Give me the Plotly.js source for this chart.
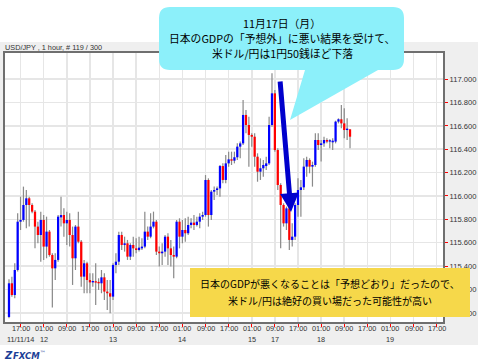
<!DOCTYPE html>
<html><head><meta charset="utf-8">
<script src="https://cdn.plot.ly/plotly-3.0.1.min.js"></script>
<style>html,body{margin:0;padding:0;background:#fff;} #chart{width:478px;height:363px;}</style>
</head><body><div id="chart"></div>
<script>
// USD/JPY 1-hour candles (index 0 = 11/11/14 13:00)
const openP = [
114.965,115.253,115.153,115.367,115.780,115.795,115.923,115.980,115.923,115.866,
115.738,115.666,115.795,115.567,115.695,115.495,115.381,115.453,115.817,115.837,
115.766,115.795,115.666,115.467,115.738,115.609,115.310,115.424,115.281,115.261,
115.270,115.259,115.253,115.304,115.182,115.168,115.139,115.410,115.438,115.666,
115.581,115.595,115.481,115.581,115.552,115.538,115.552,115.567,115.695,115.652,
115.738,115.780,115.524,115.510,115.524,115.652,115.552,115.495,115.481,115.780,
115.652,115.709,115.681,115.752,115.772,115.752,115.780,115.823,115.837,116.137,
115.837,116.037,116.051,116.065,116.256,116.137,116.279,116.313,116.302,116.331,
116.422,116.450,116.693,116.607,116.522,116.507,116.336,116.208,116.237,116.256,
116.279,116.607,116.878,116.393,116.094,115.923,115.766,115.894,115.624,115.652,
115.923,116.051,116.074,116.251,116.308,116.251,116.265,116.479,116.436,116.450,
116.479,116.465,116.459,116.465,116.636,116.656,116.621,116.564,116.570];
const highP = [
115.287,115.310,115.424,115.852,115.994,116.080,116.051,115.994,115.937,115.880,
115.780,115.866,115.837,115.823,115.709,115.510,115.510,115.837,115.994,115.894,
115.866,115.852,115.738,115.752,115.866,115.624,115.453,115.438,115.338,115.338,
115.424,115.296,115.367,115.338,115.281,115.281,115.424,115.510,115.695,115.695,
115.652,115.624,115.595,115.652,115.638,115.652,115.638,115.866,115.738,115.852,
115.866,115.795,115.567,115.595,115.666,115.681,115.624,115.567,115.795,115.809,
115.795,115.809,115.823,115.809,115.837,115.823,115.852,115.866,116.179,116.151,
116.051,116.080,116.080,116.265,116.279,116.351,116.379,116.379,116.379,116.450,
116.465,116.821,116.735,116.678,116.536,116.536,116.365,116.322,116.308,116.336,
116.678,117.049,116.906,116.408,116.108,115.937,115.909,115.909,115.766,115.937,
116.151,116.137,116.322,116.336,116.322,116.294,116.536,116.536,116.479,116.507,
116.493,116.485,116.493,116.644,116.664,116.778,116.750,116.664,116.570];
const lowP = [
114.954,115.139,115.125,115.353,115.709,115.780,115.723,115.738,115.852,115.552,
115.595,115.438,115.453,115.467,115.481,115.045,115.281,115.438,115.738,115.652,
115.581,115.567,115.239,115.367,115.595,115.224,115.168,115.168,115.168,115.224,
115.068,115.196,115.168,115.110,115.025,114.996,115.110,115.338,115.410,115.538,
115.524,115.453,115.453,115.481,115.510,115.524,115.538,115.552,115.624,115.638,
115.723,115.495,115.396,115.410,115.481,115.410,115.396,115.296,115.467,115.552,
115.595,115.609,115.666,115.723,115.709,115.738,115.723,115.795,115.823,115.738,
115.795,115.966,116.008,115.994,116.108,116.108,116.251,116.265,116.279,116.308,
116.322,116.436,116.536,116.251,116.422,116.251,116.122,116.137,116.165,116.222,
116.265,116.593,116.379,116.051,115.552,115.738,115.709,115.538,115.567,115.624,
115.823,115.823,116.051,116.165,116.194,116.080,116.251,116.393,116.294,116.422,
116.450,116.408,116.393,116.450,116.621,116.579,116.493,116.479,116.408];
const closeP = [
115.253,115.153,115.367,115.780,115.795,115.923,115.980,115.923,115.866,115.738,
115.666,115.795,115.567,115.695,115.495,115.381,115.453,115.823,115.837,115.766,
115.795,115.666,115.467,115.738,115.609,115.310,115.424,115.281,115.261,115.270,
115.259,115.253,115.304,115.182,115.168,115.139,115.410,115.438,115.666,115.581,
115.595,115.481,115.581,115.552,115.538,115.558,115.567,115.695,115.652,115.738,
115.780,115.524,115.510,115.524,115.652,115.552,115.495,115.481,115.780,115.652,
115.709,115.681,115.752,115.772,115.752,115.780,115.823,115.837,116.137,115.837,
116.037,116.051,116.065,116.256,116.137,116.279,116.313,116.302,116.331,116.422,
116.450,116.693,116.607,116.522,116.507,116.336,116.208,116.237,116.265,116.279,
116.607,116.878,116.393,116.094,115.923,115.766,115.894,115.624,115.652,115.923,
116.051,116.074,116.251,116.308,116.251,116.265,116.479,116.436,116.450,116.479,
116.465,116.470,116.473,116.636,116.656,116.621,116.564,116.570,116.507];

const timeTickIdx = [4,12,20,28,36,44,52,60,68,76,84,92,100,108,116,124,132,140,148];
const timeTickText = ['17:00','01:00','09:00','17:00','01:00','09:00','17:00','01:00','09:00','17:00',
                      '01:00','09:00','17:00','01:00','09:00','17:00','01:00','09:00','17:00'];
const dateIdx = [4,12,36,60,84,92,108,132];
const dateText = ['11/11/14','12','13','14','15','17','18','19'];
const priceTicks = [115.0,115.2,115.4,115.6,115.8,116.0,116.2,116.4,116.6,116.8,117.0];

const headerText = 'USD/JPY , 1 hour, # 119 / 300';
const callout1 = ['11月17日（月）','日本のGDPの「予想外」に悪い結果を受けて、','米ドル/円は1円50銭ほど下落'];
const callout2 = ['日本のGDPが悪くなることは「予想どおり」だったので、','米ドル/円は絶好の買い場だった可能性が高い'];

// ---- build traces ----
const idx = openP.map((_, i) => i);
const bodyBase = openP.map((o, i) => Math.min(o, closeP[i]));
const bodyH = openP.map((o, i) => Math.max(Math.abs(closeP[i] - o), 0.012));
const bodyCol = openP.map((o, i) => closeP[i] >= o ? '#0000ff' : '#ff0000');
const wickH = highP.map((h, i) => h - lowP[i]);

const wicks = {type:'bar', x: idx, y: wickH, base: lowP, width: 0.42,
  marker:{color:'#8a8a8a', line:{width:0}}, hoverinfo:'skip', showlegend:false};
const bodies = {type:'bar', x: idx, y: bodyH, base: bodyBase, width: 0.78,
  marker:{color: bodyCol, line:{width:0}}, hoverinfo:'skip', showlegend:false};

// pixel -> paper helpers (plot area: x 5..443, y 53..322)
const L = 5, R = 443, T = 53, B = 322;
const PX = x => (x - L) / (R - L);
const PY = y => (B - y) / (B - T);

function calloutPath() {
  const x0 = 159, x1 = 404, y0 = 7, y1 = 70, r = 11;
  const pts = [
    ['M', x0 + r, y0], ['L', x1 - r, y0], ['Q', x1, y0, x1, y0 + r],
    ['L', x1, y1 - r], ['Q', x1, y1, x1 - r, y1],
    ['L', 378, y1], ['L', 290, 120], ['L', 305, y1],
    ['L', x0 + r, y1], ['Q', x0, y1, x0, y1 - r],
    ['L', x0, y0 + r], ['Q', x0, y0, x0 + r, y0]
  ];
  return pts.map(p => {
    if (p[0] === 'Q') return 'Q' + PX(p[1]) + ',' + PY(p[2]) + ' ' + PX(p[3]) + ',' + PY(p[4]);
    return p[0] + PX(p[1]) + ',' + PY(p[2]);
  }).join(' ') + ' Z';
}

const shapes = [
  {type:'rect', xref:'paper', yref:'paper', x0:PX(-5), x1:PX(483), y0:PY(42), y1:PY(345),
   fillcolor:'#efefef', line:{width:0}, layer:'below'},
  {type:'rect', xref:'paper', yref:'paper', x0:0, x1:1, y0:0, y1:1,
   fillcolor:'#ffffff', line:{width:0}, layer:'below'},
  {type:'path', xref:'paper', yref:'paper', path: calloutPath(),
   fillcolor:'#8cf0fa', line:{width:0}, layer:'above'},
  {type:'rect', xref:'paper', yref:'paper', x0:PX(190), x1:PX(470), y0:PY(317), y1:PY(268),
   fillcolor:'#f6d84a', line:{width:0}, layer:'above'}
];

const smallFont = {family:'Liberation Sans, Arial, sans-serif', size:7.3, color:'#333'};
const jpFont = {family:'"Noto Sans CJK JP", sans-serif', color:'#000'};
const annotations = [];
// time labels under the axis
timeTickIdx.forEach((d, k) => annotations.push({xref:'x', yref:'paper', x:d, y:PY(328.5),
  text:timeTickText[k], showarrow:false, xanchor:'center', yanchor:'middle', font:smallFont, borderpad:0}));
// dates under time labels
dateIdx.forEach((d, k) => annotations.push({xref:'x', yref:'paper', x:d, y:PY(339.5),
  text:dateText[k], showarrow:false, xanchor:'center', yanchor:'middle', font:smallFont, borderpad:0}));
// header
annotations.push({xref:'paper', yref:'paper', x:PX(4), y:PY(47.5), text:headerText, showarrow:false,
  xanchor:'left', yanchor:'middle', font:smallFont, borderpad:0});
// arrow
annotations.push({xref:'paper', yref:'paper', x:PX(291), y:PY(212), ax:-11, ay:-132, text:'',
  showarrow:true, arrowhead:2, arrowsize:0.75, arrowwidth:5, arrowcolor:'#0000cc', standoff:0, startstandoff:0});
// callout 1 text
const c1y = [23.3, 37.8, 52.7];
callout1.forEach((t, k) => annotations.push({xref:'paper', yref:'paper', x:PX(282), y:PY(c1y[k]),
  text:t, showarrow:false, xanchor:'center', yanchor:'middle', borderpad:0, font:Object.assign({size:10.8}, jpFont)}));
// callout 2 text
const c2y = [283.5, 300.5];
callout2.forEach((t, k) => annotations.push({xref:'paper', yref:'paper', x:PX(330), y:PY(c2y[k]),
  text:t, showarrow:false, xanchor:'center', yanchor:'middle', borderpad:0, font:Object.assign({size:10}, jpFont)}));
// FXCM logo
annotations.push({xref:'paper', yref:'paper', x:PX(2), y:PY(355), text:'<b><i>Z</i></b>', showarrow:false,
  xanchor:'left', yanchor:'middle', font:{family:'DejaVu Sans, sans-serif', size:10, color:'#1b3e96'}});
annotations.push({xref:'paper', yref:'paper', x:PX(11), y:PY(355), text:'<b><i>FXCM</i></b><sup>™</sup>', showarrow:false,
  xanchor:'left', yanchor:'middle', font:{family:'DejaVu Sans, sans-serif', size:8.5, color:'#1b3e96'}});

const layout = {
  width:478, height:363,
  margin:{l:L, r:478 - R, t:T, b:363 - B, pad:0},
  paper_bgcolor:'#ffffff', plot_bgcolor:'#ffffff',
  barmode:'overlay', showlegend:false, hovermode:false,
  xaxis:{range:[-1.38, 150.17], tickmode:'array', tickvals:timeTickIdx, showticklabels:false,
    ticks:'outside', ticklen:3, tickwidth:1, tickcolor:'#ff0000',
    showgrid:true, gridcolor:'#e6e6e6', gridwidth:1.5, zeroline:false,
    showline:true, mirror:true, linecolor:'#6f6f6f', linewidth:2, fixedrange:true},
  yaxis:{range:[114.922, 117.223], side:'right', tickmode:'array', tickvals:priceTicks, tickformat:'.3f',
    ticks:'outside', ticklen:3, tickwidth:1, tickcolor:'#ff0000',
    showgrid:true, gridcolor:'#e6e6e6', gridwidth:1.5, zeroline:false,
    showline:true, mirror:true, linecolor:'#6f6f6f', linewidth:2,
    tickfont:{family:'Liberation Sans, Arial, sans-serif', size:7.6, color:'#333'}, fixedrange:true},
  shapes: shapes,
  annotations: annotations
};

Plotly.newPlot('chart', [wicks, bodies], layout, {displayModeBar:false, staticPlot:true});
</script>
</body></html>
